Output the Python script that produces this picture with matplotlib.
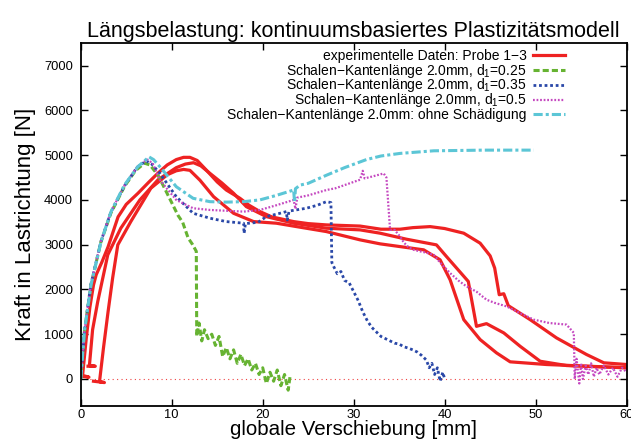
import matplotlib
matplotlib.use("Agg")
import matplotlib.pyplot as plt
from matplotlib.lines import Line2D

plt.rcParams['font.family'] = ['Liberation Sans', 'DejaVu Sans']
plt.rcParams['mathtext.default'] = 'regular'

# experimentelle Daten (3 Proben)
exp1_x = [0.0, 0.9, 0.2, 0.6, 1.0, 1.4, 1.7, 2.3, 3.0, 4.1, 5.0, 6.3, 7.5, 8.5, 9.5, 10.5, 11.3, 12.0,
          12.8, 13.8, 15.0, 16.0, 17.5, 18.5, 19.7, 21.0, 23.4, 25.0, 27.0, 30.7, 33.0, 35.1, 36.5,
          38.4, 40.0, 42.1, 43.9, 45.0, 45.5, 46.0, 46.5, 47.0, 49.4, 52.3, 55.6, 57.5, 60.0]
exp1_y = [60, 40, 80, 900, 1600, 2100, 2330, 2600, 2950, 3620, 3900, 4150, 4400, 4600, 4780, 4900, 4950, 4950,
          4880, 4666, 4400, 4220, 4035, 3880, 3738, 3620, 3515, 3470, 3441, 3415, 3345, 3345, 3380,
          3403, 3360, 3256, 3033, 2750, 2477, 1882, 1904, 1637, 1325, 917, 546, 361, 323]

exp2_x = [0.8, 1.6, 0.95, 1.3, 1.87, 2.97, 4.4, 6.5, 8.5, 10.5, 11.5, 12.4, 13.2, 14.2, 15.5, 16.8, 18.2,
          20.4, 23.4, 27.0, 30.7, 32.9, 35.8, 39.1, 40.2, 42.6, 43.5, 44.6, 46.5, 48.3, 50.5, 53.4, 60.0]
exp2_y = [285, 285, 300, 1100, 1733, 2773, 3367, 4000, 4450, 4720, 4800, 4830, 4760, 4592, 4380, 4147, 3849,
          3626, 3479, 3367, 3330, 3256, 3122, 2995, 2735, 2178, 1176, 1236, 1029, 730, 396, 300, 249]

exp3_x = [1.4, 2.6, 2.06, 2.5, 3.0, 3.5, 4.07, 5.5, 7.7, 9.5, 10.5, 11.3, 12.0, 13.1, 14.6, 16.8, 19.0,
          21.5, 24.1, 27.0, 30.7, 32.9, 37.7, 39.5, 40.6, 42.1, 43.9, 45.7, 47.2, 51.2, 60.0]
exp3_y = [-50, -80, -60, 700, 1500, 2250, 2995, 3515, 4260, 4560, 4650, 4680, 4660, 4440, 4071, 3700, 3515,
          3479, 3390, 3292, 3107, 3018, 2884, 2661, 2216, 1325, 880, 583, 383, 323, 250]

# Simulation d1=0.25
d25_x = [0, 0.4, 1.1, 2.2, 3.3, 4.8, 6.0, 7.0, 7.6, 8.5, 9.6, 10.7, 11.2, 11.8, 12.3, 12.7, 12.75, 13.0,
         13.3, 13.6, 14.0, 14.4, 14.8, 15.2, 15.6, 16.0, 16.4, 16.8, 17.2, 17.6, 18.0, 18.4, 18.8, 19.2,
         19.6, 20.0, 20.4, 20.8, 21.2, 21.6, 22.0, 22.4, 22.8, 23.0]
d25_y = [0, 1050, 2080, 3050, 3700, 4300, 4650, 4820, 4780, 4550, 4100, 3650, 3500, 3150, 3000, 2850, 950, 1250,
         850, 1100, 900, 1000, 750, 950, 500, 700, 450, 650, 350, 550, 300, 450, 200, 350,
         100, 250, -100, 150, -50, 200, -150, 100, -250, 50]

# Simulation d1=0.35
d35_x = [0, 0.4, 1.1, 2.2, 3.3, 4.8, 6.2, 7.2, 7.8, 8.7, 10.5, 12.35, 14.2, 16.0, 17.9, 17.95, 18.1, 19.5,
         20.4, 21.5, 22.6, 22.7, 22.9, 24.8, 26.0, 27.0, 27.5, 27.6, 27.8, 28.2, 28.6, 29.0, 29.5, 30.0,
         30.5, 31.0, 31.5, 32.0, 32.5, 33.0, 33.5, 34.0, 34.5, 35.0, 35.5, 36.0, 36.5, 37.0, 37.5, 38.0,
         38.3, 38.6, 38.9, 39.2, 39.5, 39.8, 40.0]
d35_y = [0, 1060, 2100, 3060, 3720, 4310, 4730, 4870, 4800, 4592, 4071, 3701, 3590, 3515, 3479, 3250, 3470, 3500,
         3626, 3680, 3738, 3550, 3750, 3813, 3880, 3960, 3940, 2600, 2512, 2350, 2400, 2200, 2150, 1950,
         1750, 1500, 1300, 1150, 1050, 950, 900, 850, 800, 780, 720, 690, 650, 600, 520, 420,
         250, 350, 100, 250, -50, 150, 0]

# Simulation d1=0.5
d5_x = [0, 0.4, 1.1, 2.2, 3.3, 4.8, 6.2, 7.3, 7.9, 8.7, 10.5, 12.35, 14.2, 17.9, 19.7, 21.5, 23.4, 23.6, 23.8,
        25.0, 27.0, 28.0, 30.7, 31.0, 31.2, 32.0, 33.3, 33.6, 34.0, 34.5, 35.1, 35.5, 36.0, 36.6, 37.3, 38.0,
        38.8, 39.5, 40.6, 41.5, 42.4, 43.5, 44.6, 45.5, 46.8, 48.0, 49.8, 51.5, 53.4, 54.2, 54.3, 54.5,
        54.8, 55.0, 55.2, 55.5, 55.8, 56.1, 56.4, 56.7, 57.0, 57.5, 58.0, 58.5, 59.0, 59.5, 60.0]
d5_y = [0, 1060, 2100, 3065, 3730, 4320, 4740, 4900, 4820, 4443, 3998, 3813, 3775, 3738, 3775, 3880, 3998, 3800, 4050,
        4100, 4220, 4260, 4450, 4650, 4480, 4520, 4590, 4500, 3330, 3330, 3181, 3050, 2950, 2884, 2850, 2820,
        2773, 2600, 2365, 2200, 2068, 1950, 1771, 1700, 1622, 1500, 1325, 1250, 1214, 1029, 0, 450,
        -100, 350, 0, 300, 100, 350, 50, 250, 100, 300, 100, 250, 50, 250, 150]

# Simulation ohne Schaedigung
nod_x = [0, 0.4, 1.13, 2.23, 3.33, 4.8, 6.27, 7.5, 8.0, 8.7, 10.5, 12.35, 14.2, 16.0, 17.9, 19.7, 21.5, 23.4,
         23.5, 23.6, 24.1, 25.0, 27.0, 29.0, 31.4, 33.0, 35.1, 38.8, 44.3, 49.8]
nod_y = [0, 1065, 2105, 3070, 3738, 4332, 4740, 4960, 4900, 4740, 4294, 4035, 3960, 3950, 3960, 4000, 4100, 4220,
         3950, 4250, 4330, 4370, 4550, 4720, 4900, 4980, 5038, 5096, 5111, 5111]

labels = ["experimentelle Daten: Probe 1\u22123",
          "Schalen\u2212Kantenlänge 2.0mm, d$_1$=0.25",
          "Schalen\u2212Kantenlänge 2.0mm, d$_1$=0.35",
          "Schalen\u2212Kantenlänge 2.0mm, d$_1$=0.5",
          "Schalen\u2212Kantenlänge 2.0mm: ohne Schädigung"]

fig = plt.figure(figsize=(6.31, 4.45), dpi=100)
ax = fig.add_axes([0.128, 0.088, 0.865, 0.815])

ax.axhline(0, color='#ee4444', lw=0.8, ls=(0, (1, 3)), zorder=1)

red = '#ee2222'
styles = [dict(color=red, lw=2.3, ls='-'),
          dict(color='#66b332', lw=2.2, ls=(0, (2, 1))),
          dict(color='#2a48a8', lw=2.0, ls=(0, (1, 1))),
          dict(color='#c548c0', lw=1.6, ls=(0, (0.8, 0.8))),
          dict(color='#5cc6d6', lw=2.2, ls=(0, (3, 1, 1, 1)))]

ax.plot(exp1_x, exp1_y, **styles[0])
ax.plot(exp2_x, exp2_y, **styles[0])
ax.plot(exp3_x, exp3_y, **styles[0])
ax.plot(d25_x, d25_y, **styles[1])
ax.plot(d35_x, d35_y, **styles[2])
ax.plot(d5_x, d5_y, **styles[3])
ax.plot(nod_x, nod_y, **styles[4])

ax.set_xlim(0, 60)
ax.set_ylim(-600, 7500)
ax.set_xticks(range(0, 61, 10))
ax.set_yticks(range(0, 7001, 1000))
ax.tick_params(direction='in', length=5, width=1, top=True, right=True, labelsize=9.3)
ax.tick_params(axis='x', pad=2.5)
ax.tick_params(axis='y', pad=5.5)
for s in ax.spines.values():
    s.set_linewidth(1.3)

ax.set_title("Längsbelastung: kontinuumsbasiertes Plastizitätsmodell", fontsize=15.5, pad=4.5)
ax.set_xlabel("globale Verschiebung [mm]", fontsize=14.8, labelpad=-1)
ax.set_ylabel("Kraft in Lastrichtung [N]", fontsize=16, labelpad=6)

# gnuplot-style key: right-aligned text, sample line to the right
x_text, x_l0, x_l1 = 0.817, 0.829, 0.888
row_y0, row_dy = 0.966, 0.0405
for i, (lab, st) in enumerate(zip(labels, styles)):
    yy = row_y0 - i * row_dy
    ax.text(x_text, yy - 0.012, lab, transform=ax.transAxes, ha='right', va='baseline', fontsize=10)
    ax.add_line(Line2D([x_l0, x_l1], [yy, yy], transform=ax.transAxes, **st))

fig.savefig("out.png", dpi=100)
